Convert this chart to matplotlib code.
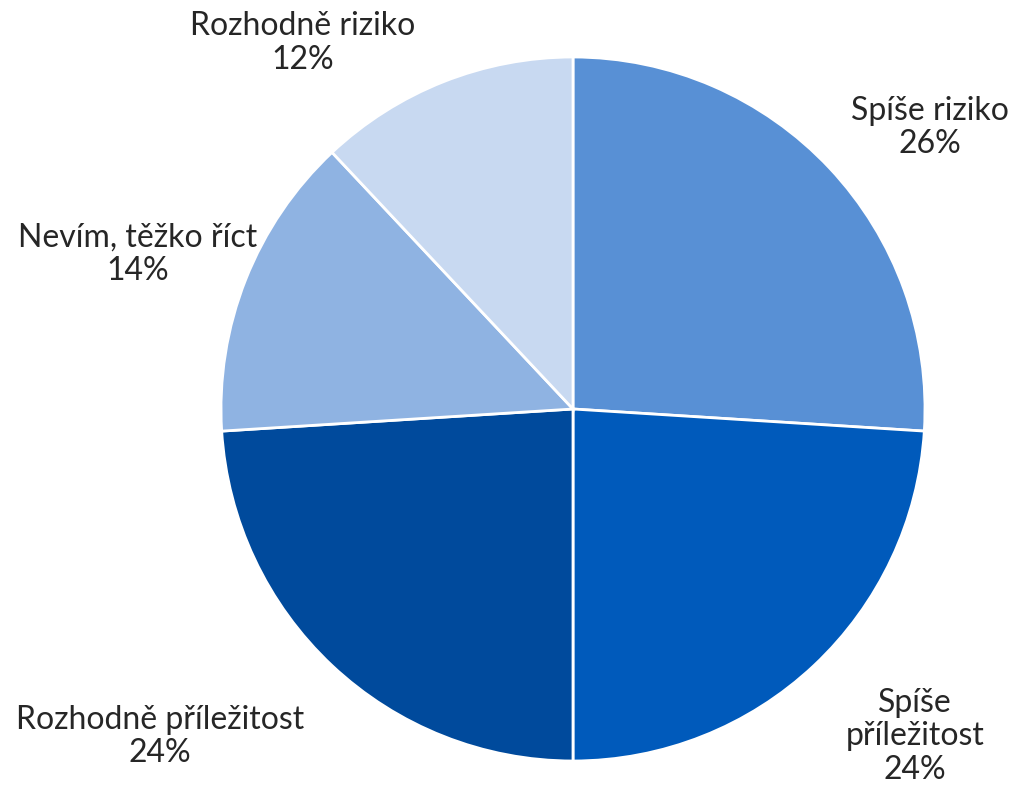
import matplotlib
matplotlib.use("Agg")
import matplotlib.pyplot as plt

# survey answers, clockwise from 12 o'clock
labels = ["Spíše riziko", "Spíše\npříležitost", "Rozhodně příležitost",
          "Nevím, těžko říct", "Rozhodně riziko"]
shares = [26, 24, 24, 14, 12]
colors = ["#5890D5", "#005ABB", "#004A9C", "#8FB3E2", "#C8D9F1"]

# label anchor points in pie units (radius 1)
label_pos = [(1.014, 0.80), (0.972, -0.93), (-1.173, -0.93),
             (-1.236, 0.44), (-0.767, 1.04)]

plt.rcParams["font.family"] = ["Lato", "DejaVu Sans"]

fig = plt.figure(figsize=(10.14, 7.85), dpi=100)
ax = fig.add_axes([0, 0, 1, 1])

ax.pie(shares, colors=colors, startangle=90, counterclock=False,
       radius=1.0, center=(0, 0),
       wedgeprops=dict(edgecolor="white", linewidth=2))

for lab, val, (x, y) in zip(labels, shares, label_pos):
    ax.text(x, y, f"{lab}\n{val}%", ha="center", va="center",
            fontsize=23, fontweight="normal", color="#262626",
            linespacing=1.15)

# 352 px per unit, centre at (573, 409)
ax.set_xlim(-573 / 352, (1014 - 573) / 352)
ax.set_ylim((409 - 785) / 352, 409 / 352)
ax.set_aspect("auto")
ax.axis("off")

fig.savefig("out.png", dpi=100, facecolor="white")
